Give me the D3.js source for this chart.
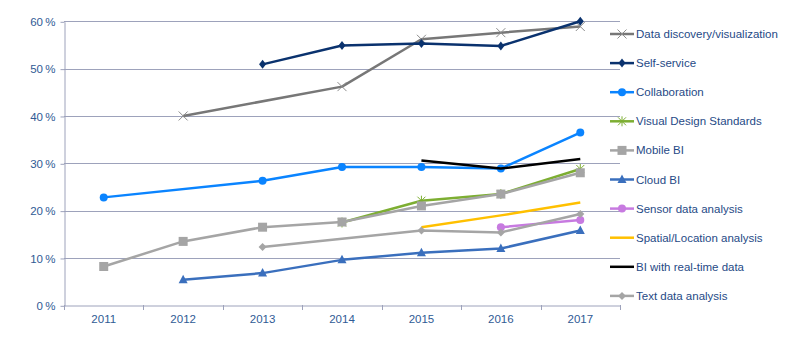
<!DOCTYPE html>
<html><head><meta charset="utf-8">
<script src="https://cdn.jsdelivr.net/npm/d3@7"></script>
<style>html,body{margin:0;padding:0;background:#fff;}svg{display:block;font-family:"Liberation Sans",Arial,sans-serif;}</style>
</head><body>
<svg id="c" width="794" height="338"></svg>
<script>
const years = ["2011","2012","2013","2014","2015","2016","2017"];
const yTicks = [0,10,20,30,40,50,60];
const seriesNames = ["Data discovery/visualization","Self-service","Collaboration","Visual Design Standards","Mobile BI","Cloud BI","Sensor data analysis","Spatial/Location analysis","BI with real-time data","Text data analysis"];
const dataDiscovery = [null,40.0,null,46.2,56.2,57.6,58.9];
const selfService   = [null,null,50.9,54.9,55.3,54.8,60.0];
const collaboration = [22.8,null,26.3,29.2,29.2,28.9,36.5];
const visualDesign  = [null,null,null,17.5,22.1,23.5,28.8];
const mobileBI      = [8.2,13.5,16.5,17.6,21.0,23.5,28.0];
const cloudBI       = [null,5.4,6.8,9.6,11.1,12.0,15.8];
const sensorData    = [null,null,null,null,null,16.5,18.0];
const spatial       = [null,null,null,null,16.5,19.0,21.7];
const realTime      = [null,null,null,null,30.6,28.9,30.9];
const textData      = [null,null,12.3,null,15.8,15.4,19.3];

const seriesValues = [dataDiscovery,selfService,collaboration,visualDesign,mobileBI,cloudBI,sensorData,spatial,realTime,textData];
const styles = [
  {color:"#777777", marker:"x"},
  {color:"#0a326e", marker:"diamond"},
  {color:"#0a84ff", marker:"circle"},
  {color:"#7dae32", marker:"asterisk"},
  {color:"#a5a5a5", marker:"square"},
  {color:"#3a6fbd", marker:"triangle"},
  {color:"#c77ae0", marker:"circle"},
  {color:"#ffc000", marker:null},
  {color:"#000000", marker:null},
  {color:"#a5a5a5", marker:"smalldiamond"}
];

const svg = d3.select("#c");
const L=64, R=620, T=21.3, B=305.3;
const x = d3.scaleBand().domain(years).range([L,R]);
const y = d3.scaleLinear().domain([0,60]).range([B,T]);
const axisColor="#9da2bb", textColor="#2f5b95";

// gridlines
svg.append("g").selectAll("line").data(yTicks.filter(d=>d>0)).join("line")
  .attr("x1",L).attr("x2",R).attr("y1",d=>Math.round(y(d))+0.5).attr("y2",d=>Math.round(y(d))+0.5)
  .attr("stroke",axisColor).attr("stroke-width",1);

// y axis
const yAxis = d3.axisLeft(y).tickValues(yTicks).tickFormat(d=>d+"\u202F%").tickSize(4).tickSizeOuter(0);
const gy = svg.append("g").attr("transform",`translate(${L+0.5},0.5)`).call(yAxis);
gy.select(".domain").attr("stroke",axisColor);
gy.selectAll(".tick line").attr("stroke",axisColor);
gy.selectAll(".tick text").attr("fill",textColor).attr("font-size",11.5).attr("x",-9).attr("font-family","Liberation Sans, Arial, sans-serif");

// x axis
const xAxis = d3.axisBottom(x).tickSize(0).tickSizeOuter(0);
const gx = svg.append("g").attr("transform",`translate(0,${Math.round(B)+0.5})`).call(xAxis);
gx.select(".domain").attr("stroke",axisColor);
gx.selectAll(".tick text").attr("fill",textColor).attr("font-size",11.5).attr("dy","1.25em").attr("font-family","Liberation Sans, Arial, sans-serif");
// band boundary ticks
svg.append("g").selectAll("line").data(years.map(d=>x(d)).concat([R])).join("line")
  .attr("x1",d=>Math.round(d)+0.5).attr("x2",d=>Math.round(d)+0.5)
  .attr("y1",Math.round(B)).attr("y2",Math.round(B)+5).attr("stroke",axisColor);

const cx = d=>x(d)+x.bandwidth()/2;

function drawMarker(g, type, px, py, color){
  if(!type) return;
  if(type==="circle"){
    g.append("circle").attr("cx",px).attr("cy",py).attr("r",4).attr("fill",color);
  } else if(type==="square"){
    g.append("rect").attr("x",px-4.5).attr("y",py-4.5).attr("width",9).attr("height",9).attr("fill",color);
  } else if(type==="triangle"){
    g.append("path").attr("d",`M${px},${py-5}L${px+4.5},${py+3.5}L${px-4.5},${py+3.5}Z`).attr("fill",color);
  } else if(type==="diamond"){
    g.append("path").attr("d",`M${px},${py-4.5}L${px+3.5},${py}L${px},${py+4.5}L${px-3.5},${py}Z`).attr("fill",color);
  } else if(type==="smalldiamond"){
    g.append("path").attr("d",`M${px},${py-4}L${px+4},${py}L${px},${py+4}L${px-4},${py}Z`).attr("fill",color);
  } else if(type==="x"){
    g.append("path").attr("d",`M${px-4.5},${py-4.5}L${px+4.5},${py+4.5}M${px+4.5},${py-4.5}L${px-4.5},${py+4.5}`)
      .attr("stroke","#8c8c8c").attr("stroke-width",1).attr("fill","none");
  } else if(type==="asterisk"){
    g.append("path").attr("d",`M${px-4},${py-4}L${px+4},${py+4}M${px+4},${py-4}L${px-4},${py+4}M${px},${py-5}L${px},${py+5}`)
      .attr("stroke",color).attr("stroke-width",1).attr("fill","none");
  }
}

const lineGen = d3.line().x(d=>cx(d.year)).y(d=>y(d.v));
const plot = svg.append("g");
// later series drawn on top
for(let i=0;i<seriesNames.length;i++){
  const pts = years.map((yr,j)=>({year:yr,v:seriesValues[i][j]})).filter(d=>d.v!=null);
  const st = styles[i];
  const g = plot.append("g");
  g.append("path").datum(pts).attr("d",lineGen).attr("fill","none")
    .attr("stroke",st.color).attr("stroke-width",2.5).attr("stroke-linejoin","round");
  pts.forEach(p=>drawMarker(g, st.marker, cx(p.year), y(p.v), st.color));
}

// legend
const leg = svg.append("g");
seriesNames.forEach((name,i)=>{
  const ly = 34 + i*29.1;
  const st = styles[i];
  const g = leg.append("g");
  g.append("line").attr("x1",610).attr("x2",634).attr("y1",ly).attr("y2",ly).attr("stroke",st.color).attr("stroke-width",2.5);
  drawMarker(g, st.marker, 622, ly, st.color);
  g.append("text").attr("x",636).attr("y",ly).attr("dy","0.35em").attr("font-size",11.5).attr("fill","#1f4a86").text(name);
});
</script>
</body></html>
